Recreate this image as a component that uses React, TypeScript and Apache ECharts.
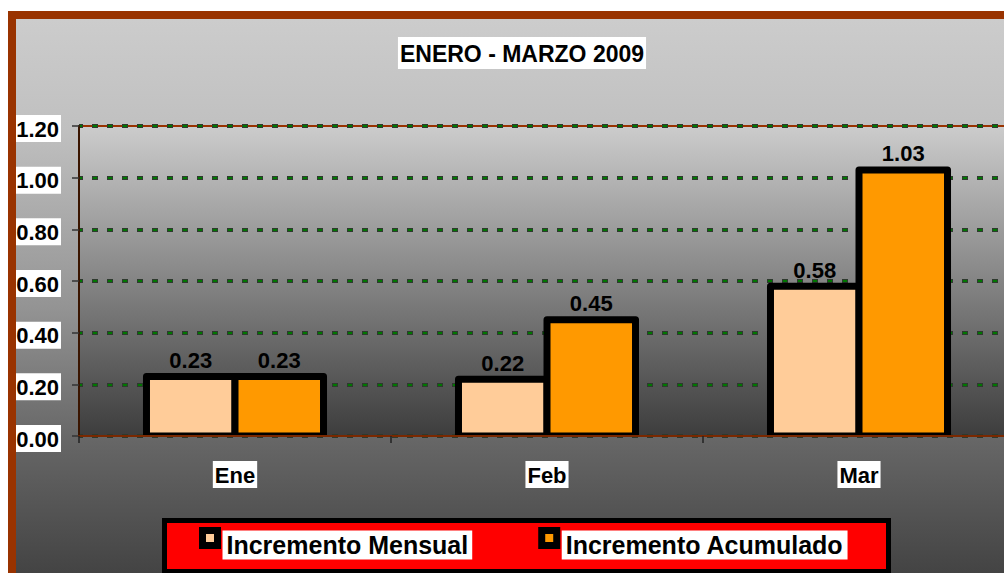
import React, { useEffect, useRef } from 'react';
import * as echarts from 'echarts';

const categories = ['Ene', 'Feb', 'Mar'];
const mensual = [0.23, 0.22, 0.58];
const acumulado = [0.23, 0.45, 1.03];
const seriesNames = ['Incremento Mensual', 'Incremento Acumulado'];
const seriesColors = ['#FFCC99', '#FF9900'];
const titleText = 'ENERO - MARZO 2009';
const yMin = 0;
const yMax = 1.2;
const yStep = 0.2;

const FONT = '"Liberation Sans", Arial, Helvetica, sans-serif';

export default function App() {
  const ref = useRef<HTMLDivElement>(null);
  useEffect(() => {
    const chart = echarts.init(ref.current!, null, { renderer: 'svg' });
    const labelBox = {
      fontSize: 22,
      fontWeight: 'bold',
      color: '#000',
      fontFamily: FONT,
      backgroundColor: '#fff',
      padding: [3, 2, 2, 2],
    };
    const makeRender = (which: number, fill: string) => (params: any, api: any) => {
      const idx = api.value(0);
      const val = api.value(1);
      const top = api.coord([idx, val]);
      const base = api.coord([idx, 0]);
      const band = api.size([1, 0])[0];
      const w = band * 0.2837;
      const x = which === 0 ? top[0] - w : top[0];
      return {
        type: 'group',
        children: [
          {
            type: 'rect',
            shape: { x, y: top[1], width: w, height: base[1] - top[1] },
            style: { fill, stroke: '#000', lineWidth: 7, lineJoin: 'round' },
          },
          {
            type: 'text',
            style: {
              text: Number(val).toFixed(2),
              x: x + w / 2,
              y: top[1] - 5,
              align: 'center',
              verticalAlign: 'bottom',
              fontSize: 22,
              fontWeight: 'bold',
              fontFamily: FONT,
              fill: '#000',
            },
          },
        ],
      };
    };
    const seriesData = [mensual, acumulado];
    const option: any = {
      animation: false,
      backgroundColor: {
        type: 'linear', x: 0, y: 0, x2: 0, y2: 1,
        colorStops: [
          { offset: 0, color: '#cdcdcd' },
          { offset: 0.2, color: '#c0c0c0' },
          { offset: 0.5, color: '#949494' },
          { offset: 0.73, color: '#666666' },
          { offset: 0.95, color: '#444444' },
          { offset: 1, color: '#404040' },
        ],
      },
      textStyle: { fontFamily: FONT },
      title: {
        text: titleText,
        left: 'center',
        top: 26,
        backgroundColor: '#fff',
        padding: [5, 2, 4, 2],
        textStyle: { fontSize: 23, fontWeight: 'bold', color: '#000', fontFamily: FONT, lineHeight: 23 },
      },
      grid: {
        left: 71, top: 115, width: 936, height: 310,
        show: true,
        backgroundColor: {
          type: 'linear', x: 0, y: 0, x2: 0, y2: 1,
          colorStops: [
            { offset: 0, color: '#cccccc' },
            { offset: 1, color: '#3d3d3d' },
          ],
        },
        borderColor: '#993300',
        borderWidth: 2,
      },
      xAxis: {
        type: 'category',
        data: categories,
        z: 3,
        axisLine: { lineStyle: { color: '#7a2800', width: 2 } },
        axisTick: { show: true, length: 7, lineStyle: { color: '#222', width: 1.5 } },
        axisLabel: { ...labelBox, margin: 25 },
        splitLine: { show: false },
      },
      yAxis: [
        {
          type: 'value', min: yMin, max: yMax, interval: yStep,
          axisLine: { show: true, lineStyle: { color: '#3a1500', width: 2 } },
          axisTick: { show: true, length: 7, lineStyle: { color: '#333', width: 1.5 } },
          axisLabel: {
            margin: 18,
            formatter: (v: number) => `{s| }{a|${v.toFixed(2)}}`,
            rich: {
              s: { width: 0, height: 32, lineHeight: 32, fontSize: 1 },
              a: { ...labelBox, lineHeight: 22, verticalAlign: 'bottom' },
            },
          },
          splitLine: { show: true, lineStyle: { color: '#2e3a2e', width: 4, type: [6, 9], dashOffset: 2 } },
        },
        {
          type: 'value', min: yMin, max: yMax, interval: yStep, position: 'left',
          axisLine: { show: false }, axisTick: { show: false }, axisLabel: { show: false },
          splitLine: { show: true, lineStyle: { color: '#007800', width: 2, type: [4, 11], dashOffset: 1 } },
        },
      ],
      legend: {
        data: seriesNames,
        left: 191,
        top: 505.5,
        padding: 0,
        itemGap: 66,
        itemWidth: 15,
        itemHeight: 15,
        icon: 'rect',
        selectedMode: false,
        itemStyle: { borderColor: '#000', borderWidth: 7 },
        formatter: (name: string) => `{s| }{a|${name}}`,
        textStyle: {
          rich: {
            s: { width: 0, height: 43, lineHeight: 43, fontSize: 1 },
            a: {
              fontSize: 25, fontWeight: 'bold', color: '#000', fontFamily: FONT,
              backgroundColor: '#fff', padding: [2, 4, 2, 4], lineHeight: 25, verticalAlign: 'bottom',
            },
          },
        },
      },
      graphic: [
        {
          type: 'rect', silent: true, z: 10,
          shape: { x: 4, y: 4, width: 1020, height: 582 },
          style: { fill: 'transparent', stroke: '#993300', lineWidth: 8 },
        },
        {
          type: 'rect', silent: true, z: 1,
          shape: { x: 156.5, y: 509.5, width: 724, height: 51 },
          style: { fill: '#ff0000', stroke: '#000', lineWidth: 5 },
        },
      ],
      series: seriesNames.map((name, i) => ({
        name,
        type: 'custom',
        coordinateSystem: 'cartesian2d',
        data: seriesData[i].map((v, j) => [j, v]),
        encode: { x: 0, y: 1 },
        clip: true,
        lineStyle: { width: 0.1 },
        itemStyle: { color: seriesColors[i] },
        renderItem: makeRender(i, seriesColors[i]),
        silent: true,
      })),
    };
    chart.setOption(option);
    return () => chart.dispose();
  }, []);
  return (
    <div style={{ position: 'fixed', left: 0, top: 0, width: 1004, height: 573, overflow: 'hidden', background: '#fff' }}>
      <div ref={ref} style={{ position: 'absolute', left: 8, top: 11, width: 1028, height: 590 }} />
    </div>
  );
}
